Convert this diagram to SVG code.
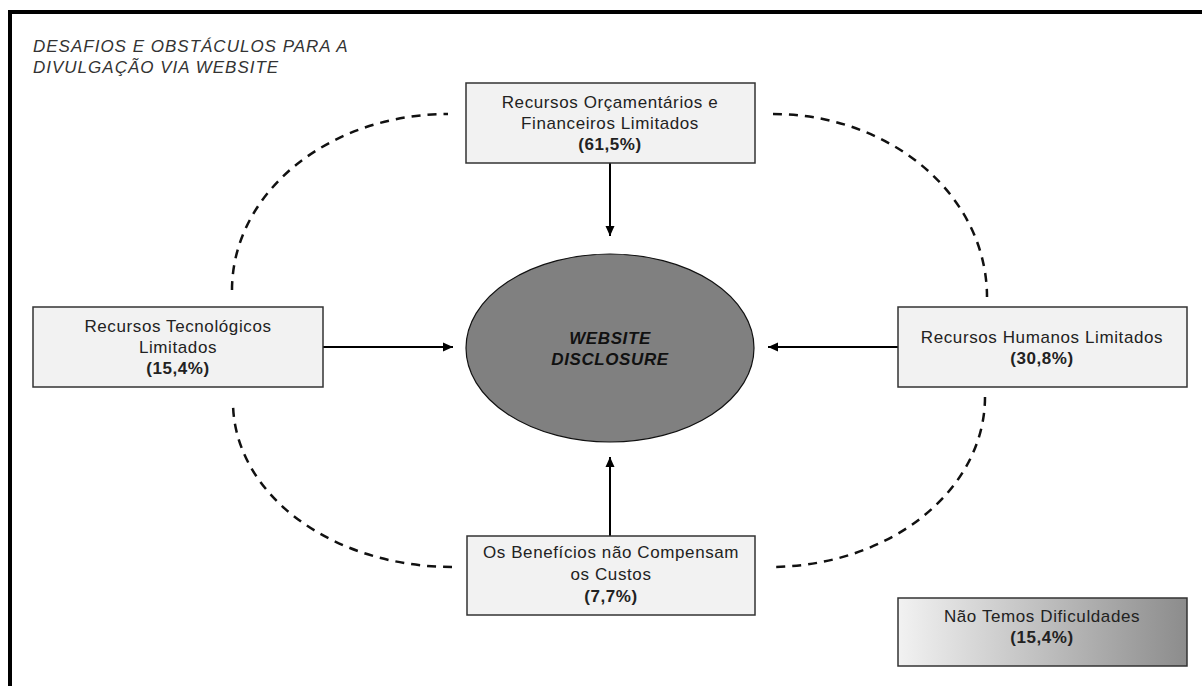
<svg xmlns="http://www.w3.org/2000/svg" width="1202" height="686" viewBox="0 0 1202 686">
<style>
.box{fill:#f2f2f2;stroke:#333;stroke-width:1.5}
.t{font-family:"Liberation Sans",Arial,sans-serif;font-size:17px;letter-spacing:0.6px;fill:#222;text-anchor:middle}
.b{font-weight:bold}
.ttl{font-family:"Liberation Sans",Arial,sans-serif;font-size:17px;letter-spacing:1px;font-style:italic;fill:#333}
.arc{fill:none;stroke:#111;stroke-width:2.5;stroke-dasharray:9 7}
.arr{fill:none;stroke:#000;stroke-width:2;marker-end:url(#ah)}
</style>
<defs>
<marker id="ah" viewBox="0 0 10 10" refX="10" refY="5" markerWidth="10" markerHeight="10" markerUnits="userSpaceOnUse" orient="auto">
<path d="M0,0.5 L10,5 L0,9.5 Z" fill="#000"/>
</marker>
<linearGradient id="g" x1="0" y1="0" x2="1" y2="0">
<stop offset="0" stop-color="#f2f2f2"/>
<stop offset="1" stop-color="#8c8c8c"/>
</linearGradient>
</defs>
<rect width="1202" height="686" fill="#fff"/>
<path d="M10,686 V12 H1202" fill="none" stroke="#000" stroke-width="4"/>
<text class="ttl" x="33" y="52">DESAFIOS E OBSTÁCULOS PARA A</text>
<text class="ttl" x="33" y="73">DIVULGAÇÃO VIA WEBSITE</text>
<g id="arcs">
<path class="arc" d="M232,290 A216,176 0 0 1 448,114"/>
<path class="arc" d="M773,114 A214,183 0 0 1 987,297"/>
<path class="arc" d="M985,397 A215,170 0 0 1 770,567"/>
<path class="arc" d="M452,567 A219,165 0 0 1 233,402"/>
</g>
<g id="connectors">
<line class="arr" x1="610" y1="163" x2="610" y2="236"/>
<line class="arr" x1="323" y1="347" x2="453" y2="347"/>
<line class="arr" x1="898" y1="347" x2="768" y2="347"/>
<line class="arr" x1="610" y1="536" x2="610" y2="457"/>
</g>
<g id="center">
<ellipse cx="610" cy="348" rx="144" ry="94" fill="#808080" stroke="#111" stroke-width="1.2"/>
<text class="t b" x="610" y="344" style="font-style:italic;fill:#111">WEBSITE</text>
<text class="t b" x="610" y="365" style="font-style:italic;fill:#111">DISCLOSURE</text>
</g>
<g id="top">
<rect class="box" x="466" y="83" width="289" height="80"/>
<text class="t" x="610" y="108">Recursos Orçamentários e</text>
<text class="t" x="610" y="129">Financeiros Limitados</text>
<text class="t b" x="610" y="150">(61,5%)</text>
</g>
<g id="left">
<rect class="box" x="33" y="307" width="290" height="80"/>
<text class="t" x="178" y="332">Recursos Tecnológicos</text>
<text class="t" x="178" y="353">Limitados</text>
<text class="t b" x="178" y="374">(15,4%)</text>
</g>
<g id="right">
<rect class="box" x="898" y="307" width="289" height="80"/>
<text class="t" x="1042" y="343">Recursos Humanos Limitados</text>
<text class="t b" x="1042" y="364">(30,8%)</text>
</g>
<g id="bottom">
<rect class="box" x="467" y="536" width="288" height="79"/>
<text class="t" x="611" y="558">Os Benefícios não Compensam</text>
<text class="t" x="611" y="580">os Custos</text>
<text class="t b" x="611" y="602">(7,7%)</text>
</g>
<g id="none">
<rect x="898" y="598" width="289" height="68" fill="url(#g)" stroke="#333" stroke-width="1.5"/>
<text class="t" x="1042" y="622">Não Temos Dificuldades</text>
<text class="t b" x="1042" y="643">(15,4%)</text>
</g>
</svg>
